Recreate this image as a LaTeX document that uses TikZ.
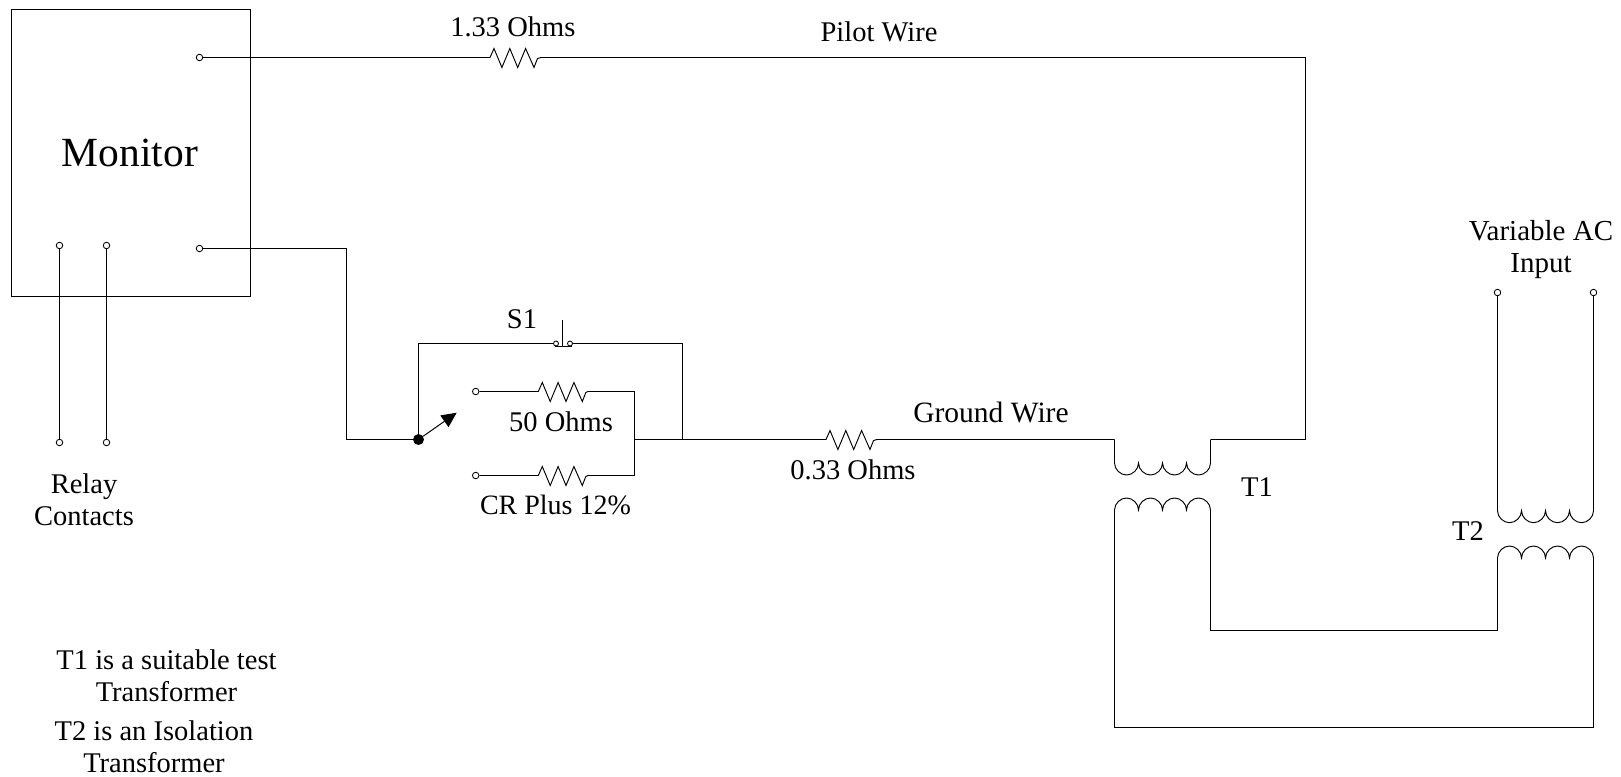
\documentclass[tikz,border=0pt]{standalone}
\usepackage{fontspec}
\setmainfont{Liberation Serif}
\usetikzlibrary{arrows.meta}
\tikzset{
  wire/.style={draw=black,line width=0.95pt,line join=miter},
  term/.style={circle,draw=black,fill=white,line width=0.85pt,inner sep=0pt,minimum size=6.5pt},
  lab/.style={font=\fontsize{28.5}{32}\selectfont,inner sep=0pt,align=center,text=black},
  resistor/.style={to path={-- ++(4,-9) -- ++(7.9,19) -- ++(7.9,-19) -- ++(7.9,19) -- ++(7.9,-19) -- ++(8.4,19) -- ++(3.5,-9) -- (\tikztotarget)}}
}
\newcommand{\coilbelow}{.. controls +(0,6.6) and +(-6,0) .. ++(12,12) .. controls +(6,0) and +(0,6.6) .. ++(12,-12)}
\newcommand{\coilabove}{.. controls +(0,-6.6) and +(-6,0) .. ++(12,-12) .. controls +(6,0) and +(0,-6.6) .. ++(12,12)}
\begin{document}
\begin{tikzpicture}[x=1pt,y=-1pt]
\useasboundingbox (0,0) rectangle (1621,776);
% monitor
\node[draw=black,line width=0.95pt,minimum width=239.6pt,minimum height=287.4pt,inner sep=0pt] (mon) at (131,153) {};
\node[lab,font=\fontsize{41.5}{46}\selectfont] (montxt) at (130,152.5) {Monitor};
% terminals
\node[term] (tA) at (199.5,57.5) {};
\node[term] (tB) at (199.5,248.5) {};
\node[term] (r1a) at (59.5,245.5) {};
\node[term] (r2a) at (106.5,245.5) {};
\node[term] (r1b) at (59.5,442.5) {};
\node[term] (r2b) at (106.5,442.5) {};
\node[term] (t50) at (475.7,391.5) {};
\node[term] (tCR) at (475.7,475.5) {};
\node[term] (vL) at (1497.5,292.5) {};
\node[term] (vR) at (1593.5,292.5) {};
\node[circle,fill=black,inner sep=0pt,minimum size=11pt] (dot) at (418.5,439.5) {};
% named points
\coordinate (sw) at (456.7,412.7);
\coordinate (pr) at (682.5,439.5);
\coordinate (pm) at (634.5,439.5);
\coordinate (tA1) at (490,57.5);
\coordinate (tA2) at (541,57.5);
\coordinate (c1) at (1114.5,439.5);
\coordinate (c2) at (1210.5,439.5);
\coordinate (corner) at (1305.5,57.5);
\coordinate (g1) at (826,439.5);
\coordinate (g2) at (877,439.5);
\coordinate (s1L) at (556,343.5);
\coordinate (s1R) at (571,343.5);
% connectors
\draw[wire] (r1a) -- (r1b);
\draw[wire] (r2a) -- (r2b);
\draw[wire] (tA) -- (tA1) to[resistor] (tA2) -- (corner) |- (c2);
\draw[wire] (tB) -| (346.5,439.5) -- (dot);
\draw[wire] (dot) |- (s1L);
\draw[wire] (s1R) -| (pr);
\draw[wire] (t50) -- (538.3,391.5) to[resistor] (588,391.5) -- (634.5,391.5) -- (634.5,475.5) -- (588,475.5);
\draw[wire] (tCR) -- (538.3,475.5) to[resistor] (588,475.5);
\draw[wire] (pm) -- (g1) to[resistor] (g2) -- (c1);
\draw[line width=1pt,-{Triangle[length=15pt,width=14pt]}] (dot) -- (sw);
% push button S1
\node[term,minimum size=5pt] (sa) at (556,343.5) {};
\node[term,minimum size=5pt] (sb) at (570,343.5) {};
\draw[wire] (555,346) -- (572,346);
\draw[wire] (562.5,320) -- (562.5,346);
% T1
\draw[wire] (c1) -- (1114.5,463) \coilbelow \coilbelow \coilbelow \coilbelow -- (c2);
\draw[wire] (1114.5,727.5) -- (1114.5,510) \coilabove \coilabove \coilabove \coilabove -- (1210.5,630.5) -- (1497.5,630.5) -- (1497.5,558) \coilabove \coilabove \coilabove \coilabove -- (1593.5,727.5) -- cycle;
% T2 upper
\draw[wire] (vL) -- (1497.5,510.7) \coilbelow \coilbelow \coilbelow \coilbelow -- (vR);
% labels
\node[lab] (l1) at (512.8,27) {1.33 Ohms};
\node[lab] (l2) at (879,31.5) {Pilot Wire};
\node[lab] (l3) at (522,319.5) {S1};
\node[lab] (l4) at (561,422) {50 Ohms};
\node[lab,font=\fontsize{28}{32}\selectfont] (l5) at (555.5,505) {CR Plus 12\%};
\node[lab,font=\fontsize{29.5}{32}\selectfont] (l6) at (991,412.5) {Ground Wire};
\node[lab] (l7) at (853,469.5) {0.33 Ohms};
\node[lab] (l8) at (1257,487) {T1};
\node[lab] (l9) at (1468,531) {T2};
\node[lab,font=\fontsize{29}{32}\selectfont] (l10) at (1541,249.5) {Variable AC\\Input};
\node[lab] (l11) at (84,499.5) {Relay\\Contacts};
\node[lab] (l12) at (166.5,675.5) {T1 is a suitable test\\Transformer};
\node[lab] (l13) at (154,746.5) {T2 is an Isolation\\Transformer};
\end{tikzpicture}
\end{document}
